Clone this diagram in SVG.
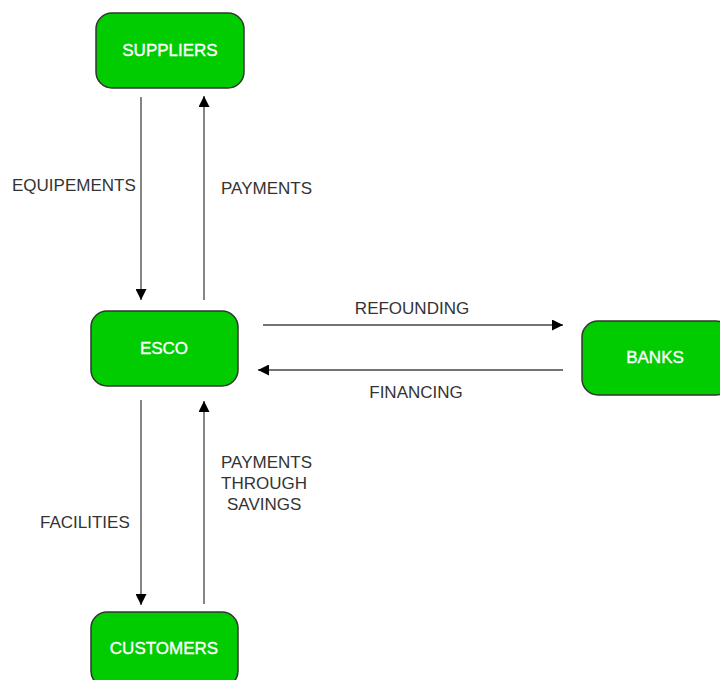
<svg xmlns="http://www.w3.org/2000/svg" width="720" height="680" viewBox="0 0 720 680">
<style>
.node rect{fill:#00cc00;stroke:#333;stroke-width:1.5}
.node text{fill:#fff;stroke:#fff;stroke-width:0.35;font-family:"Liberation Sans",Arial,sans-serif;font-size:17px;text-anchor:middle;dominant-baseline:central}
.edge line{stroke:#444;stroke-width:1.3}
.lbl{fill:#333;font-family:"Liberation Sans",Arial,sans-serif;font-size:17px}
</style>
<defs>
<marker id="ah" viewBox="0 0 10 10" refX="10" refY="5" markerWidth="11" markerHeight="11" markerUnits="userSpaceOnUse" orient="auto">
<path d="M0,0 L10,5 L0,10 z" fill="#000"/>
</marker>
</defs>
<rect width="720" height="680" fill="#fff"/>
<g id="connectors" class="edge">
<line x1="141" y1="97" x2="141" y2="300" marker-end="url(#ah)"/>
<line x1="204" y1="300" x2="204" y2="96" marker-end="url(#ah)"/>
<line x1="263" y1="325" x2="563" y2="325" marker-end="url(#ah)"/>
<line x1="563" y1="370" x2="258" y2="370" marker-end="url(#ah)"/>
<line x1="141" y1="400" x2="141" y2="605" marker-end="url(#ah)"/>
<line x1="204" y1="604" x2="204" y2="401" marker-end="url(#ah)"/>
</g>
<g id="labels" class="lbl">
<text x="12" y="191">EQUIPEMENTS</text>
<text x="221" y="194">PAYMENTS</text>
<text x="412" y="314" text-anchor="middle">REFOUNDING</text>
<text x="416" y="398" text-anchor="middle">FINANCING</text>
<text x="40" y="528">FACILITIES</text>
<text x="221" y="468">PAYMENTS</text>
<text x="221" y="489">THROUGH</text>
<text x="227" y="510">SAVINGS</text>
</g>
<g id="suppliers" class="node">
<rect x="96" y="13" width="148" height="75" rx="16"/>
<text x="170" y="50">SUPPLIERS</text>
</g>
<g id="esco" class="node">
<rect x="91" y="311" width="147" height="75" rx="16"/>
<text x="164" y="348">ESCO</text>
</g>
<g id="banks" class="node">
<rect x="582" y="321" width="150" height="74" rx="16"/>
<text x="655" y="357">BANKS</text>
</g>
<g id="customers" class="node">
<rect x="91" y="612" width="147" height="75" rx="16"/>
<text x="164" y="648">CUSTOMERS</text>
</g>
</svg>
